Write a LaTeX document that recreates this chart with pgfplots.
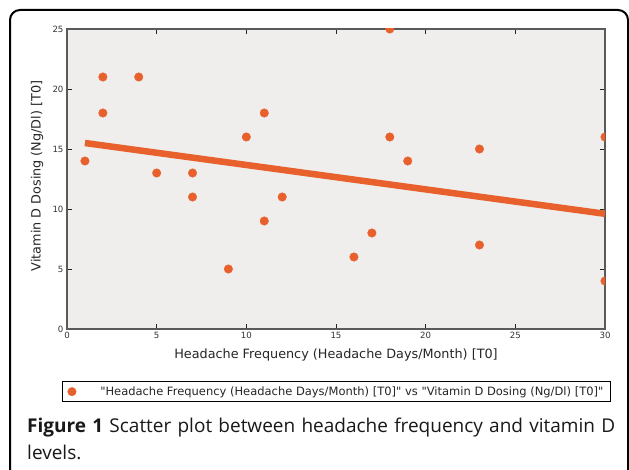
\documentclass[border=0pt]{standalone}
\usepackage{fontspec}
\setmainfont{DejaVu Sans}
\newfontfamily\legfont{DejaVu Sans}[Ligatures=TeXOff]
\newfontfamily\capfont{Open Sans}
\usepackage{pgfplots}
\pgfplotsset{compat=1.18}
\definecolor{dot}{RGB}{232,96,44}
\definecolor{bg}{RGB}{239,238,236}
\definecolor{frm}{RGB}{90,90,90}
\begin{document}
\begin{tikzpicture}
\useasboundingbox (0pt,0pt) rectangle (629pt,470pt);
\fill[white] (0pt,0pt) rectangle (629pt,470pt);
\draw[line width=2pt, rounded corners=10pt] (10pt,-20pt) -- (10pt,460pt) -- (628pt,460pt) -- (628pt,-20pt);
\begin{axis}[
  at={(67pt,141pt)}, anchor=south west,
  scale only axis, width=538pt, height=300pt,
  xmin=0, xmax=30, ymin=0, ymax=25,
  xtick={0,5,...,30}, ytick={0,5,...,25},
  tick align=inside, major tick length=5pt,
  axis background/.style={fill=bg},
  axis line style={frm, line width=1.5pt},
  tick style={black!85, line width=0.8pt},
  /pgf/number format/assume math mode=true,
  tick label style={font=\fontsize{8.6}{10}\selectfont, text=black!80},
  xlabel={Headache Frequency (Headache Days/Month) [T0]},
  ylabel={Vitamin D Dosing (Ng/Dl) [T0]},
  label style={font=\fontsize{12.8}{15}\selectfont, text=black!85},
  xlabel style={at={(rel axis cs:0.5,-0.0867)}, anchor=center},
  ylabel style={at={(rel axis cs:-0.0558,0.51)}, anchor=center},
  clip marker paths=true,
  legend style={at={(rel axis cs:-0.0093,-0.173)}, anchor=north west,
    draw=black, line width=1.3pt, font=\legfont\fontsize{11.5}{13}\selectfont,
    inner xsep=5pt, inner ysep=3pt, text=black!85},
  legend image post style={xshift=7pt},
  legend cell align=left,
]
\addplot[dot, line width=6.5pt, forget plot] coordinates {(1,15.5) (30,9.6)};
\addplot[only marks, mark=*, mark size=4.3pt, color=dot, mark options={line width=0.3pt}] coordinates {
(1,14) (2,21) (2,18) (4,21) (5,13) (7,13) (7,11) (9,5) (10,16) (11,18) (11,9)
(12,11) (16,6) (17,8) (18,25) (18,16) (19,14) (23,15) (23,7) (30,16) (30,4)};
\addlegendentry{\hspace{22pt}"Headache Frequency (Headache Days/Month) [T0]" vs "Vitamin D Dosing (Ng/Dl) [T0]"}
\end{axis}
\node[anchor=base west, text width=588pt, align=justify, inner sep=0pt,
  font=\capfont\fontsize{19}{27}\selectfont, text=black!90] at (27pt,37pt)
  {\hyphenpenalty=10000\exhyphenpenalty=10000 \textbf{Figure 1} Scatter plot between headache frequency and vitamin D levels.};
\end{tikzpicture}
\end{document}
